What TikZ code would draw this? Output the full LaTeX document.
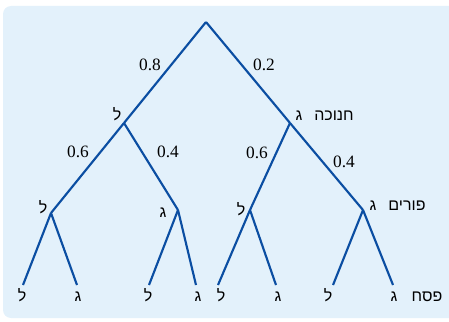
\documentclass[tikz,border=0pt]{standalone}
\usepackage{fontspec}
\setmainfont{Liberation Serif}
\newfontfamily\hebfont[Script=Hebrew]{Liberation Sans}
\TeXXeTstate=1
\usepackage{tikz}
\definecolor{treeblue}{HTML}{0B4EA2}
\definecolor{panelblue}{HTML}{E3F1FB}

\begin{document}
\begin{tikzpicture}[
  x=0.75pt, y=-0.75pt,
  branch/.style={draw=treeblue, line width=1.6pt},
  prob/.style={font=\rmfamily\fontsize{13}{15}\selectfont, inner sep=0pt},
  heb/.style={font=\hebfont\fontsize{12}{14}\selectfont, inner sep=0pt, anchor=base},
  every edge/.style={branch}
]
\clip (0,0) rectangle (449,321);
\fill[panelblue, rounded corners=6] (3,6) rectangle (470,318);

% branch points
\coordinate (root) at (206,22);
\coordinate (l) at (124,123);
\coordinate (g) at (290,123);
\coordinate (ll) at (51,213);
\coordinate (lg) at (178,210);
\coordinate (gl) at (250,210);
\coordinate (gg) at (363,210);
\coordinate (lll) at (23,285);
\coordinate (llg) at (77,285);
\coordinate (lgl) at (149,285);
\coordinate (lgg) at (196,285);
\coordinate (gll) at (218,285);
\coordinate (glg) at (276,285);
\coordinate (ggl) at (333,285);
\coordinate (ggg) at (393,285);

\path (root) edge node[midway, prob, shift={(-15,-7.5)}] {0.8} (l)
      (root) edge node[midway, prob, shift={(16,-7.5)}] {0.2} (g)
      (l) edge node[midway, prob, shift={(-9.5,-16)}] {0.6} (ll)
      (l) edge node[midway, prob, shift={(17,-14.5)}] {0.4} (lg)
      (g) edge node[midway, prob, shift={(-13,-13.5)}] {0.6} (gl)
      (g) edge node[midway, prob, shift={(17.5,-4.5)}] {0.4} (gg)
      (ll) edge (lll) (ll) edge (llg)
      (lg) edge (lgl) (lg) edge (lgg)
      (gl) edge (gll) (gl) edge (glg)
      (gg) edge (ggl) (gg) edge (ggg);

% labels
\node[heb] (hanuka-l) at (117,120) {\beginR ל\endR};
\node[heb] (hanuka-g) at (299,120) {\beginR ג\endR};
\node[heb] (hanuka) at (334,120) {\beginR חנוכה\endR};
\node[heb] (purim-ll) at (43,213) {\beginR ל\endR};
\node[heb] (purim-lg) at (163,217) {\beginR ג\endR};
\node[heb] (purim-gl) at (241,215) {\beginR ל\endR};
\node[heb] (purim-gg) at (373,210) {\beginR ג\endR};
\node[heb] (purim) at (407,210) {\beginR פורים\endR};
\foreach \x/\t [count=\i] in {22/ל,78/ג,148/ל,198/ג,221/ל,278/ג,328/ל,394/ג}
  \node[heb] (pesach-\i) at (\x,301) {\beginR\t\endR};
\node[heb] (pesach) at (427,301) {\beginR פסח\endR};
\end{tikzpicture}
\end{document}
